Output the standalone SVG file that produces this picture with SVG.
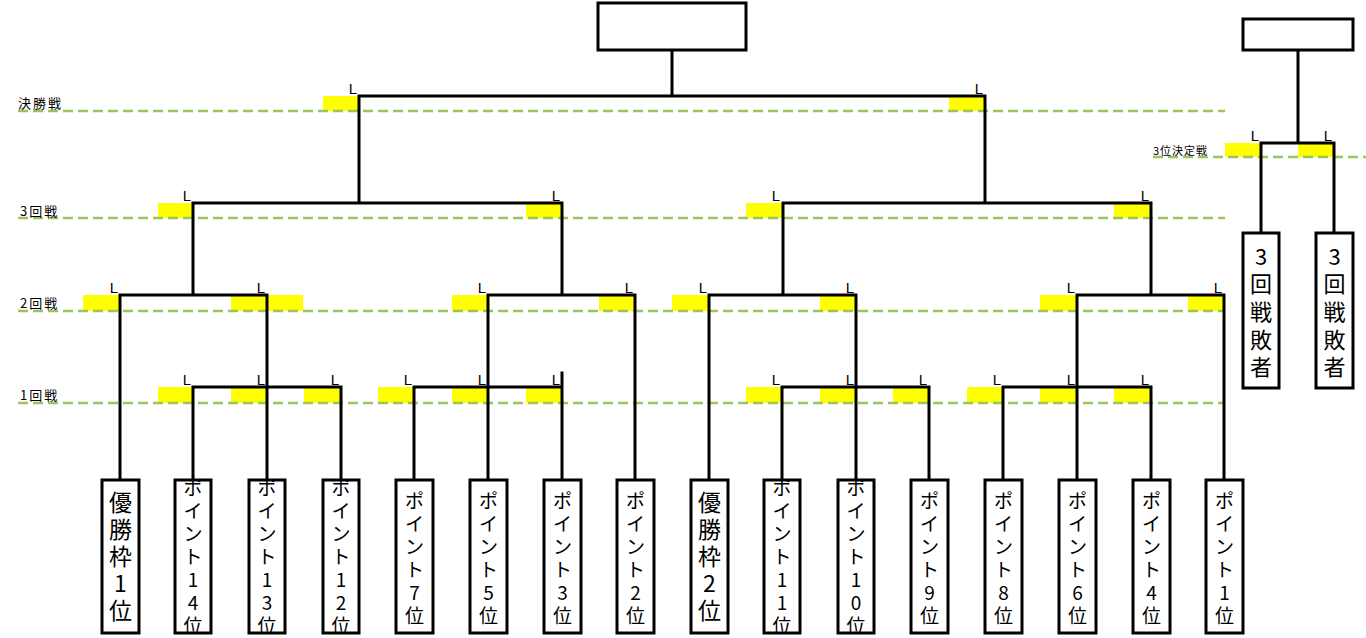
<svg xmlns="http://www.w3.org/2000/svg" width="1366" height="638" viewBox="0 0 1366 638">
<style>
.guide{stroke:#9bc45c;stroke-width:2.5;stroke-dasharray:10 5;fill:none}
.hl{fill:#ffff00}
.ln{stroke:#000;stroke-width:3;fill:none;stroke-linecap:square}
.box{fill:#fff;stroke:#000;stroke-width:3}
.L{font-family:"Liberation Sans",Arial,sans-serif;font-size:15px;fill:#000;text-anchor:end}
.rd{font-family:"Noto Sans CJK JP",sans-serif;font-size:13px;fill:#000;letter-spacing:2px}
.k{font-family:"Noto Sans CJK JP",sans-serif;font-size:19px;fill:#000;text-anchor:middle}
.b{font-family:"Noto Sans CJK JP",sans-serif;font-size:23px;fill:#000;text-anchor:middle}
.s{font-family:"Noto Sans CJK JP",sans-serif;font-size:22px;fill:#000;text-anchor:middle}
</style>
<defs>
<clipPath id="c193"><rect x="176" y="481" width="34" height="151"/></clipPath>
<clipPath id="c267"><rect x="250" y="481" width="34" height="151"/></clipPath>
<clipPath id="c341"><rect x="324" y="481" width="34" height="151"/></clipPath>
<clipPath id="c782"><rect x="765" y="481" width="34" height="151"/></clipPath>
<clipPath id="c856"><rect x="839" y="481" width="34" height="151"/></clipPath>
</defs>
<rect width="1366" height="638" fill="#fff"/>

<g id="highlights">
<rect class="hl" x="323" y="96" width="36" height="15"/>
<rect class="hl" x="949" y="96" width="36" height="15"/>
<rect class="hl" x="158" y="203" width="35" height="15"/>
<rect class="hl" x="526" y="203" width="36" height="15"/>
<rect class="hl" x="746" y="203" width="36" height="15"/>
<rect class="hl" x="1114" y="203" width="37" height="15"/>
<rect class="hl" x="83" y="295" width="37" height="16"/>
<rect class="hl" x="231" y="295" width="72" height="16"/>
<rect class="hl" x="452" y="295" width="36" height="16"/>
<rect class="hl" x="599" y="295" width="36" height="16"/>
<rect class="hl" x="672" y="295" width="37" height="16"/>
<rect class="hl" x="820" y="295" width="36" height="16"/>
<rect class="hl" x="1040" y="295" width="37" height="16"/>
<rect class="hl" x="1188" y="295" width="36" height="16"/>
<rect class="hl" x="158" y="387" width="35" height="16"/>
<rect class="hl" x="231" y="387" width="36" height="16"/>
<rect class="hl" x="304" y="387" width="37" height="16"/>
<rect class="hl" x="378" y="387" width="36" height="16"/>
<rect class="hl" x="452" y="387" width="36" height="16"/>
<rect class="hl" x="526" y="387" width="36" height="16"/>
<rect class="hl" x="746" y="387" width="36" height="16"/>
<rect class="hl" x="820" y="387" width="36" height="16"/>
<rect class="hl" x="893" y="387" width="36" height="16"/>
<rect class="hl" x="967" y="387" width="36" height="16"/>
<rect class="hl" x="1040" y="387" width="37" height="16"/>
<rect class="hl" x="1114" y="387" width="37" height="16"/>
<rect class="hl" x="1225" y="143" width="36" height="14"/>
<rect class="hl" x="1298" y="143" width="36" height="14"/>
</g>

<g id="guides">
<line class="guide" x1="18" y1="111" x2="1225" y2="111"/>
<line class="guide" x1="18" y1="218" x2="1225" y2="218"/>
<line class="guide" x1="18" y1="311" x2="1225" y2="311"/>
<line class="guide" x1="18" y1="403" x2="1225" y2="403"/>
<line class="guide" x1="1153" y1="157" x2="1366" y2="157"/>
</g>

<g id="round-labels">
<text class="rd" x="18" y="108">決勝戦</text>
<text class="rd" x="20" y="216">3回戦</text>
<text class="rd" x="20" y="308">2回戦</text>
<text class="rd" x="20" y="400">1回戦</text>
<text class="rd" x="1153" y="155" style="font-size:11px;letter-spacing:1px">3位決定戦</text>
</g>

<g id="connectors">
<path class="ln" d="M672,50V96M359,96H985M359,96V203M985,96V203
M193,203H562M783,203H1151
M193,203V295M562,203V295M783,203V295M1151,203V295
M120,295H267M488,295H635M709,295H856M1077,295H1224
M120,295V480M267,295V480M488,295V480M635,295V480M709,295V480M856,295V480M1077,295V480M1224,295V480
M193,387H341M414,387H562M782,387H929M1003,387H1151
M193,387V480M341,387V480M414,387V480M562,373V480M782,387V480M929,387V480M1003,387V480M1151,387V480
M1298,50V143M1261,143H1334M1261,143V233M1334,143V233"/>
</g>

<g id="l-marks">
<text class="L" x="357" y="94">L</text>
<text class="L" x="983" y="94">L</text>
<text class="L" x="191" y="201">L</text>
<text class="L" x="560" y="201">L</text>
<text class="L" x="780" y="201">L</text>
<text class="L" x="1149" y="201">L</text>
<text class="L" x="118" y="293">L</text>
<text class="L" x="265" y="293">L</text>
<text class="L" x="486" y="293">L</text>
<text class="L" x="633" y="293">L</text>
<text class="L" x="707" y="293">L</text>
<text class="L" x="854" y="293">L</text>
<text class="L" x="1075" y="293">L</text>
<text class="L" x="1222" y="293">L</text>
<text class="L" x="191" y="385">L</text>
<text class="L" x="265" y="385">L</text>
<text class="L" x="339" y="385">L</text>
<text class="L" x="412" y="385">L</text>
<text class="L" x="486" y="385">L</text>
<text class="L" x="560" y="385">L</text>
<text class="L" x="780" y="385">L</text>
<text class="L" x="854" y="385">L</text>
<text class="L" x="927" y="385">L</text>
<text class="L" x="1001" y="385">L</text>
<text class="L" x="1075" y="385">L</text>
<text class="L" x="1149" y="385">L</text>
<text class="L" x="1259" y="141">L</text>
<text class="L" x="1332" y="141">L</text>
</g>

<g id="champion"><rect class="box" x="598" y="3" width="148" height="47"/></g>
<g id="third-place"><rect class="box" x="1243" y="19" width="110" height="31"/></g>

<g id="e120"><rect class="box" x="102" y="480" width="37" height="153"/>
<text class="b"><tspan x="120.5" y="511">優</tspan><tspan x="120.5" y="538">勝</tspan><tspan x="120.5" y="565">枠</tspan><tspan x="120.5" y="592">1</tspan><tspan x="120.5" y="619">位</tspan></text></g>

<g id="e193"><rect class="box" x="175" y="480" width="36" height="153"/>
<text class="k" clip-path="url(#c193)"><tspan x="193" y="495">ポ</tspan><tspan x="193" y="518">イ</tspan><tspan x="193" y="541">ン</tspan><tspan x="193" y="564">ト</tspan><tspan x="193" y="587">1</tspan><tspan x="193" y="610">4</tspan><tspan x="193" y="633">位</tspan></text></g>

<g id="e267"><rect class="box" x="249" y="480" width="36" height="153"/>
<text class="k" clip-path="url(#c267)"><tspan x="267" y="495">ポ</tspan><tspan x="267" y="518">イ</tspan><tspan x="267" y="541">ン</tspan><tspan x="267" y="564">ト</tspan><tspan x="267" y="587">1</tspan><tspan x="267" y="610">3</tspan><tspan x="267" y="633">位</tspan></text></g>

<g id="e341"><rect class="box" x="323" y="480" width="36" height="153"/>
<text class="k" clip-path="url(#c341)"><tspan x="341" y="495">ポ</tspan><tspan x="341" y="518">イ</tspan><tspan x="341" y="541">ン</tspan><tspan x="341" y="564">ト</tspan><tspan x="341" y="587">1</tspan><tspan x="341" y="610">2</tspan><tspan x="341" y="633">位</tspan></text></g>

<g id="e414"><rect class="box" x="396" y="480" width="37" height="153"/>
<text class="k"><tspan x="414.5" y="508">ポ</tspan><tspan x="414.5" y="531">イ</tspan><tspan x="414.5" y="554">ン</tspan><tspan x="414.5" y="577">ト</tspan><tspan x="414.5" y="600">7</tspan><tspan x="414.5" y="623">位</tspan></text></g>

<g id="e488"><rect class="box" x="470" y="480" width="37" height="153"/>
<text class="k"><tspan x="488.5" y="508">ポ</tspan><tspan x="488.5" y="531">イ</tspan><tspan x="488.5" y="554">ン</tspan><tspan x="488.5" y="577">ト</tspan><tspan x="488.5" y="600">5</tspan><tspan x="488.5" y="623">位</tspan></text></g>

<g id="e562"><rect class="box" x="544" y="480" width="37" height="153"/>
<text class="k"><tspan x="562.5" y="508">ポ</tspan><tspan x="562.5" y="531">イ</tspan><tspan x="562.5" y="554">ン</tspan><tspan x="562.5" y="577">ト</tspan><tspan x="562.5" y="600">3</tspan><tspan x="562.5" y="623">位</tspan></text></g>

<g id="e635"><rect class="box" x="617" y="480" width="37" height="153"/>
<text class="k"><tspan x="635.5" y="508">ポ</tspan><tspan x="635.5" y="531">イ</tspan><tspan x="635.5" y="554">ン</tspan><tspan x="635.5" y="577">ト</tspan><tspan x="635.5" y="600">2</tspan><tspan x="635.5" y="623">位</tspan></text></g>

<g id="e709"><rect class="box" x="691" y="480" width="37" height="153"/>
<text class="b"><tspan x="709.5" y="511">優</tspan><tspan x="709.5" y="538">勝</tspan><tspan x="709.5" y="565">枠</tspan><tspan x="709.5" y="592">2</tspan><tspan x="709.5" y="619">位</tspan></text></g>

<g id="e782"><rect class="box" x="764" y="480" width="36" height="153"/>
<text class="k" clip-path="url(#c782)"><tspan x="782" y="495">ポ</tspan><tspan x="782" y="518">イ</tspan><tspan x="782" y="541">ン</tspan><tspan x="782" y="564">ト</tspan><tspan x="782" y="587">1</tspan><tspan x="782" y="610">1</tspan><tspan x="782" y="633">位</tspan></text></g>

<g id="e856"><rect class="box" x="838" y="480" width="36" height="153"/>
<text class="k" clip-path="url(#c856)"><tspan x="856" y="495">ポ</tspan><tspan x="856" y="518">イ</tspan><tspan x="856" y="541">ン</tspan><tspan x="856" y="564">ト</tspan><tspan x="856" y="587">1</tspan><tspan x="856" y="610">0</tspan><tspan x="856" y="633">位</tspan></text></g>

<g id="e929"><rect class="box" x="911" y="480" width="37" height="153"/>
<text class="k"><tspan x="929.5" y="508">ポ</tspan><tspan x="929.5" y="531">イ</tspan><tspan x="929.5" y="554">ン</tspan><tspan x="929.5" y="577">ト</tspan><tspan x="929.5" y="600">9</tspan><tspan x="929.5" y="623">位</tspan></text></g>

<g id="e1003"><rect class="box" x="985" y="480" width="37" height="153"/>
<text class="k"><tspan x="1003.5" y="508">ポ</tspan><tspan x="1003.5" y="531">イ</tspan><tspan x="1003.5" y="554">ン</tspan><tspan x="1003.5" y="577">ト</tspan><tspan x="1003.5" y="600">8</tspan><tspan x="1003.5" y="623">位</tspan></text></g>

<g id="e1077"><rect class="box" x="1059" y="480" width="37" height="153"/>
<text class="k"><tspan x="1077.5" y="508">ポ</tspan><tspan x="1077.5" y="531">イ</tspan><tspan x="1077.5" y="554">ン</tspan><tspan x="1077.5" y="577">ト</tspan><tspan x="1077.5" y="600">6</tspan><tspan x="1077.5" y="623">位</tspan></text></g>

<g id="e1151"><rect class="box" x="1133" y="480" width="37" height="153"/>
<text class="k"><tspan x="1151.5" y="508">ポ</tspan><tspan x="1151.5" y="531">イ</tspan><tspan x="1151.5" y="554">ン</tspan><tspan x="1151.5" y="577">ト</tspan><tspan x="1151.5" y="600">4</tspan><tspan x="1151.5" y="623">位</tspan></text></g>

<g id="e1224"><rect class="box" x="1206" y="480" width="37" height="153"/>
<text class="k"><tspan x="1224.5" y="508">ポ</tspan><tspan x="1224.5" y="531">イ</tspan><tspan x="1224.5" y="554">ン</tspan><tspan x="1224.5" y="577">ト</tspan><tspan x="1224.5" y="600">1</tspan><tspan x="1224.5" y="623">位</tspan></text></g>

<g id="loser-a"><rect class="box" x="1243" y="233" width="36" height="155"/>
<text class="s"><tspan x="1261" y="265">3</tspan><tspan x="1261" y="292">回</tspan><tspan x="1261" y="320">戦</tspan><tspan x="1261" y="348">敗</tspan><tspan x="1261" y="375">者</tspan></text></g>

<g id="loser-b"><rect class="box" x="1316" y="233" width="37" height="155"/>
<text class="s"><tspan x="1334.5" y="265">3</tspan><tspan x="1334.5" y="292">回</tspan><tspan x="1334.5" y="320">戦</tspan><tspan x="1334.5" y="348">敗</tspan><tspan x="1334.5" y="375">者</tspan></text></g>
</svg>
